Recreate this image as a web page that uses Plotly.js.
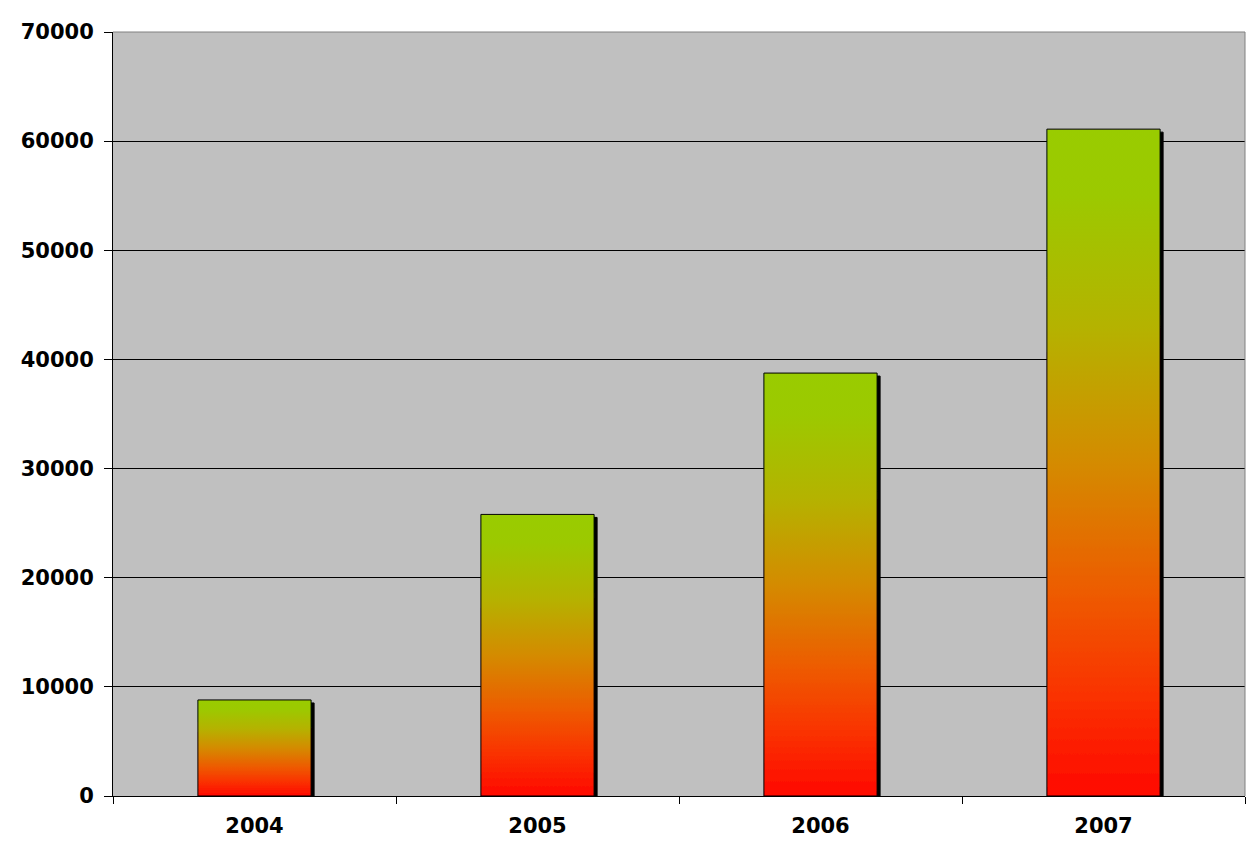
<!DOCTYPE html>
<html>
<head>
<meta charset="utf-8">
<script src="https://cdn.plot.ly/plotly-3.0.1.min.js"></script>
<style>
  html, body { margin: 0; padding: 0; background: #fff; }
  #chart { width: 1260px; height: 859px; }
</style>
</head>
<body>
<div id="chart"></div>
<script>
(function () {
  "use strict";

  var years = ["2004", "2005", "2006", "2007"];
  var values = [8800, 25800, 38750, 61100];
  var yTicks = [0, 10000, 20000, 30000, 40000, 50000, 60000, 70000];

  var font = { family: "DejaVu Sans, Verdana, sans-serif", size: 21, color: "#000" };
  var tickFont = { family: font.family, size: 21, color: "#000", weight: "bold" };

  var trace = {
    type: "bar",
    x: years,
    y: values,
    width: 0.4,
    marker: { color: "#99cc00", line: { color: "#000", width: 1 } },
    hoverinfo: "none"
  };

  var layout = {
    width: 1260,
    height: 859,
    margin: { l: 113, r: 15, t: 32, b: 63 },
    paper_bgcolor: "#fff",
    plot_bgcolor: "#c0c0c0",
    font: font,
    showlegend: false,
    xaxis: {
      type: "category",
      tickson: "boundaries",
      ticks: "outside",
      ticklen: 7,
      tickcolor: "#000",
      tickwidth: 1,
      showline: true,
      linecolor: "#000",
      linewidth: 1,
      showgrid: false,
      tickfont: tickFont,
      ticklabelstandoff: 11,
      fixedrange: true
    },
    yaxis: {
      range: [0, 70000],
      tickvals: yTicks,
      ticktext: yTicks.map(String),
      ticks: "outside",
      ticklen: 8,
      tickcolor: "#000",
      tickwidth: 1,
      showline: true,
      linecolor: "#000",
      linewidth: 1,
      showgrid: true,
      gridcolor: "#000",
      gridwidth: 1,
      zeroline: false,
      tickfont: tickFont,
      ticklabelstandoff: 6,
      fixedrange: true
    },
    shapes: [
      { type: "line", xref: "paper", yref: "paper", x0: 0, x1: 1, y0: 1, y1: 1, line: { color: "#808080", width: 1 }, layer: "above" },
      { type: "line", xref: "paper", yref: "paper", x0: 1, x1: 1, y0: 0, y1: 1, line: { color: "#808080", width: 1 }, layer: "above" }
    ]
  };

  // Plotly bars have no gradient fill, so add an SVG gradient + hard shadow after drawing
  function decorateBars(gd) {
    var svgNS = "http://www.w3.org/2000/svg";
    var svg = gd.querySelector("svg.main-svg");
    var defs = svg.querySelector("defs") || svg.insertBefore(document.createElementNS(svgNS, "defs"), svg.firstChild);

    var grad = document.createElementNS(svgNS, "linearGradient");
    grad.setAttribute("id", "barGrad");
    grad.setAttribute("x1", "0"); grad.setAttribute("y1", "0");
    grad.setAttribute("x2", "0"); grad.setAttribute("y2", "1");
    [["0", "#99cc00"], ["0.1", "#9cc900"], ["0.3", "#b5b200"], ["0.5", "#d48b00"],
     ["0.7", "#ee5a00"], ["0.85", "#fa3200"], ["1", "#ff0800"]].forEach(function (s) {
      var stop = document.createElementNS(svgNS, "stop");
      stop.setAttribute("offset", s[0]);
      stop.setAttribute("stop-color", s[1]);
      grad.appendChild(stop);
    });
    defs.appendChild(grad);

    var filter = document.createElementNS(svgNS, "filter");
    filter.setAttribute("id", "barShadow");
    filter.setAttribute("x", "-10%"); filter.setAttribute("y", "-10%");
    filter.setAttribute("width", "130%"); filter.setAttribute("height", "130%");
    var ds = document.createElementNS(svgNS, "feDropShadow");
    ds.setAttribute("dx", "3"); ds.setAttribute("dy", "3");
    ds.setAttribute("stdDeviation", "0");
    ds.setAttribute("flood-color", "#000");
    ds.setAttribute("flood-opacity", "1");
    filter.appendChild(ds);
    defs.appendChild(filter);

    gd.querySelectorAll(".barlayer .point path").forEach(function (p) {
      p.style.fill = "url(#barGrad)";
      p.style.fillOpacity = "1";
      p.setAttribute("filter", "url(#barShadow)");
    });
  }

  var gd = document.getElementById("chart");
  Plotly.newPlot(gd, [trace], layout, { displayModeBar: false, staticPlot: true }).then(decorateBars);
})();
</script>
</body>
</html>
